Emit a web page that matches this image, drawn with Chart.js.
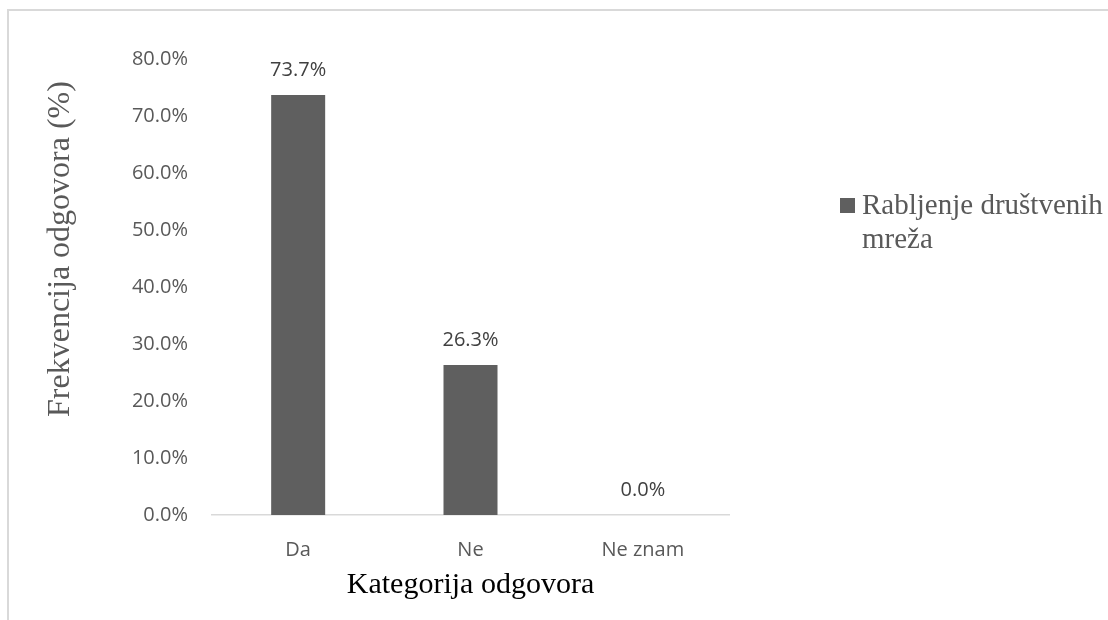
<!DOCTYPE html>
<html>
<head>
<meta charset="utf-8">
<script src="https://cdn.jsdelivr.net/npm/chart.js@4.4.0/dist/chart.umd.min.js"></script>
<style>
  html, body { margin: 0; padding: 0; background: #fff; }
  #wrap { position: relative; width: 1108px; height: 620px; overflow: hidden; }
  #frame { position: absolute; left: 7px; top: 9px; width: 1200px; height: 700px;
           border-left: 2px solid #d9d9d9; border-top: 2px solid #d9d9d9; }
  canvas { position: absolute; left: 0; top: 0; }
</style>
</head>
<body>
<div id="wrap">
  <div id="frame"></div>
  <canvas id="c" width="1108" height="620"></canvas>
</div>
<script>
const categories = ['Da', 'Ne', 'Ne znam'];
const seriesName = 'Rabljenje društvenih mreža';
const values = [73.7, 26.3, 0.0];
const yTicks = [0, 10, 20, 30, 40, 50, 60, 70, 80];
const xTitle = 'Kategorija odgovora';
const yTitle = 'Frekvencija odgovora (%)';

const barColor = '#5f5f5f';
const textGray = '#595959';
const serif = '"Liberation Serif", "Times New Roman", serif';
const sans = '"Open Sans", "Noto Sans", sans-serif';

const dataLabels = {
  id: 'dataLabels',
  afterDatasetsDraw(chart) {
    const ctx = chart.ctx;
    const meta = chart.getDatasetMeta(0);
    ctx.save();
    ctx.font = '20px ' + sans;
    ctx.fillStyle = '#404040';
    ctx.textAlign = 'center';
    ctx.textBaseline = 'middle';
    meta.data.forEach((bar, i) => {
      ctx.fillText(values[i].toFixed(1) + '%', bar.x, bar.y - 25);
    });
    ctx.restore();
  }
};

const yTitlePlugin = {
  id: 'yTitlePlugin',
  afterDraw(chart) {
    const ctx = chart.ctx;
    ctx.save();
    ctx.translate(61, 249);
    ctx.rotate(-Math.PI / 2);
    ctx.font = '32px ' + serif;
    ctx.fillStyle = textGray;
    ctx.textAlign = 'center';
    ctx.textBaseline = 'middle';
    ctx.fillText(yTitle, 0, 0);
    ctx.restore();
  }
};

const sideLegend = {
  id: 'sideLegend',
  afterDraw(chart) {
    const ctx = chart.ctx;
    const ds = chart.data.datasets[0];
    const x0 = 840, boxTop = 198, box = 15, tx = 862, maxW = 1108 - tx;
    ctx.save();
    ctx.fillStyle = ds.backgroundColor;
    ctx.fillRect(x0, boxTop, box, box);
    ctx.font = '29px ' + serif;
    ctx.fillStyle = textGray;
    ctx.textAlign = 'left';
    ctx.textBaseline = 'alphabetic';
    const words = ds.label.split(' ');
    const lines = [];
    let cur = '';
    words.forEach(w => {
      const t = cur ? cur + ' ' + w : w;
      if (ctx.measureText(t).width > maxW && cur) { lines.push(cur); cur = w; }
      else cur = t;
    });
    if (cur) lines.push(cur);
    lines.forEach((l, i) => ctx.fillText(l, tx, 214 + i * 34));
    ctx.restore();
  }
};

new Chart(document.getElementById('c'), {
  type: 'bar',
  data: {
    labels: categories,
    datasets: [{
      label: seriesName,
      data: values,
      backgroundColor: barColor,
      borderWidth: 0,
      inflateAmount: 0,
      barThickness: 54
    }]
  },
  options: {
    responsive: false,
    animation: false,
    devicePixelRatio: 1,
    layout: { padding: { left: 0, top: 59, right: 379, bottom: 0 } },
    plugins: { legend: { display: false }, tooltip: { enabled: false } },
    scales: {
      x: {
        afterFit(s) { s.height = 105; },
        grid: { display: false, drawTicks: false },
        border: { display: true, color: '#d9d9d9', width: 1.5 },
        ticks: { color: textGray, font: { family: sans, size: 20 }, padding: 23 },
        title: { display: true, text: xTitle, color: '#000', font: { family: serif, size: 30 }, padding: { top: 0, bottom: 17 } }
      },
      y: {
        min: 0, max: 80,
        afterFit(s) { s.width = 212; },
        afterBuildTicks(s) { s.ticks = yTicks.map(v => ({ value: v })); },
        grid: { display: false, drawTicks: false },
        border: { display: false },
        ticks: { color: textGray, font: { family: sans, size: 20 }, padding: 24,
                 callback: v => Number(v).toFixed(1) + '%' }
      }
    }
  },
  plugins: [dataLabels, yTitlePlugin, sideLegend]
});
</script>
</body>
</html>
